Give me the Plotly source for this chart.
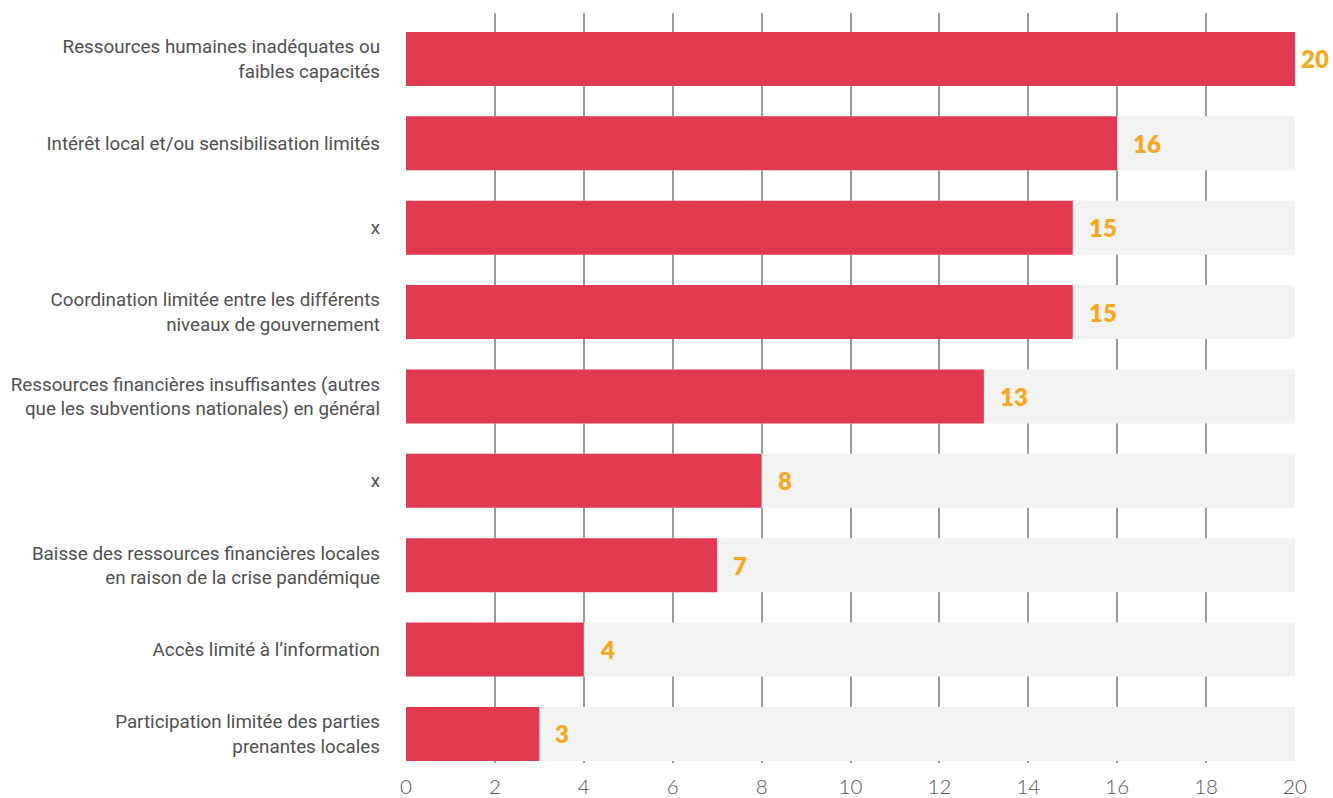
import plotly.graph_objects as go

categories = [
    "Ressources humaines inadéquates ou<br>faibles capacités",
    "Intérêt local et/ou sensibilisation limités",
    "x",
    "Coordination limitée entre les différents<br>niveaux de gouvernement",
    "Ressources financières insuffisantes (autres<br>que les subventions nationales) en général",
    "x",
    "Baisse des ressources financières locales<br>en raison de la crise pandémique",
    "Accès limité à l’information",
    "Participation limitée des parties<br>prenantes locales",
]
values = [20, 16, 15, 15, 13, 8, 7, 4, 3]
axis_max = 20
tick_values = [0, 2, 4, 6, 8, 10, 12, 14, 16, 18, 20]

positions = list(range(len(categories)))

RED = "#e1394f"
BG = "#f2f2f2"
ORANGE = "#f7a823"

fig = go.Figure()
fig.add_trace(go.Bar(
    x=[axis_max] * len(values), y=positions, orientation="h",
    marker=dict(color=BG, line=dict(width=0)), width=0.64,
    hoverinfo="skip", showlegend=False,
))
fig.add_trace(go.Bar(
    x=values, y=positions, orientation="h",
    marker=dict(color=RED, line=dict(width=0)), width=0.64,
    showlegend=False,
))

for v, p in zip(values, positions):
    fig.add_annotation(
        x=v, y=p, text=str(v), showarrow=False, xanchor="left", yanchor="middle",
        xshift=4 if v >= axis_max else 14,
        font=dict(family="Lato", size=24, color=ORANGE, weight=800),
    )

fig.update_layout(
    width=1333, height=798,
    margin=dict(l=406, r=38, t=13, b=35, autoexpand=False),
    paper_bgcolor="white", plot_bgcolor="white",
    barmode="overlay",
    xaxis=dict(
        range=[0, axis_max], tickvals=tick_values,
        showgrid=True, gridcolor="#9a9a9a", gridwidth=1.5,
        zeroline=False, showline=False, ticks="",
        ticklabelstandoff=9, automargin=False,
        tickfont=dict(family="Lato", size=20.5, color="#555555", weight=300),
        fixedrange=True,
    ),
    yaxis=dict(
        tickvals=positions, ticktext=categories,
        range=[8.344, -0.545],
        showgrid=False, zeroline=False, showline=False, ticks="",
        ticklabelstandoff=25, automargin=False,
        tickfont=dict(family="Roboto", size=18.8, color="#505050"),
        fixedrange=True,
    ),
)

fig.write_html(
    "out.html",
    config={"displayModeBar": False},
    post_script="document.body.style.margin='0';document.body.style.overflow='hidden';",
)
